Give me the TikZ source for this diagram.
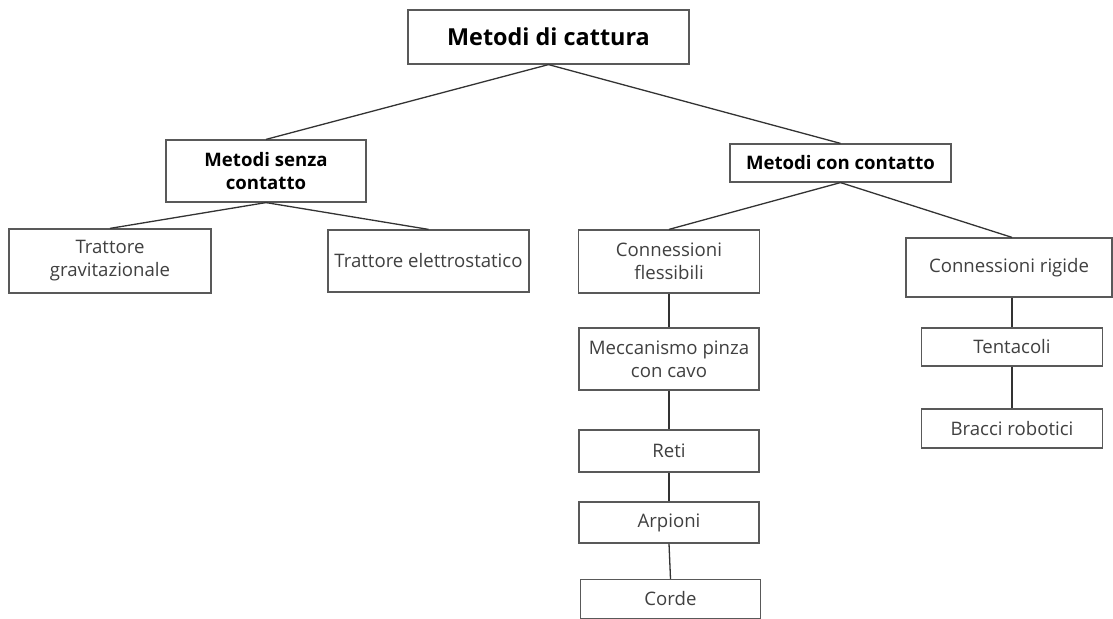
\documentclass[tikz,border=0pt]{standalone}
\usepackage{fontspec}
\setmainfont{Open Sans}
\usetikzlibrary{positioning}

\begin{document}
\begin{tikzpicture}[
    x=0.5pt, y=-0.5pt,
    box/.style={draw=black!65, line width=0.6pt, fill=white, align=center, inner sep=2pt, text=black!75, font=\fontsize{9.3}{11.5}\selectfont},
    head/.style={box, text=black, font=\fontsize{9.3}{11.5}\selectfont\bfseries},
    link/.style={draw=black!80, line width=0.65pt}
]
\useasboundingbox (0,0) rectangle (1113,619);

% Root
\node[box, text=black, font=\fontsize{11.7}{13}\selectfont\bfseries, minimum width=140.5pt, minimum height=27pt] (root) at (548.5, 37) {Metodi di cattura};

% Second level
\node[head, minimum width=100pt, minimum height=31pt] (senza) at (266, 171) {Metodi senza\\contatto};
\node[head, minimum width=110.5pt, minimum height=19pt] (con) at (840.5, 163) {Metodi con contatto};

% Senza contatto
\node[box, minimum width=101pt, minimum height=32pt] (grav) at (110, 261) {Trattore\\gravitazionale};
\node[box, minimum width=100.5pt, minimum height=31pt] (elett) at (428.5, 261) {Trattore elettrostatico};

% Con contatto
\node[box, minimum width=90.5pt, minimum height=31.5pt] (fless) at (669, 261.5) {Connessioni\\flessibili};
\node[box, minimum width=103pt, minimum height=29.5pt] (rigide) at (1009, 267.5) {Connessioni rigide};

% Flessibili chain
\node[box, minimum width=90pt, minimum height=31pt] (pinza) at (669, 359) {Meccanismo pinza\\con cavo};
\node[box, minimum width=90pt, minimum height=21pt] (reti) at (669, 451) {Reti};
\node[box, minimum width=90pt, minimum height=20.5pt] (arpioni) at (669, 522.5) {Arpioni};
\node[box, minimum width=90pt, minimum height=19.5pt] (corde) at (670.5, 599) {Corde};

% Rigide chain
\node[box, minimum width=90.5pt, minimum height=19pt] (tentacoli) at (1012, 347) {Tentacoli};
\node[box, minimum width=90.5pt, minimum height=19.5pt] (bracci) at (1012, 428.5) {Bracci robotici};

% Connections
\draw[link] (root.south) -- (senza.north);
\draw[link] (root.south) -- (con.north);
\draw[link] (senza.south) -- (grav.north);
\draw[link] (senza.south) -- (elett.north);
\draw[link] (con.south) -- (fless.north);
\draw[link] (con.south) -- (rigide.north -| tentacoli.north);
\draw[link] (fless.south) -- (pinza.north);
\draw[link] (pinza.south) -- (reti.north);
\draw[link] (reti.south) -- (arpioni.north);
\draw[link] (arpioni.south) -- (corde.north);
\draw[link] (rigide.south -| tentacoli.north) -- (tentacoli.north);
\draw[link] (tentacoli.south) -- (bracci.north);

\end{tikzpicture}
\end{document}
